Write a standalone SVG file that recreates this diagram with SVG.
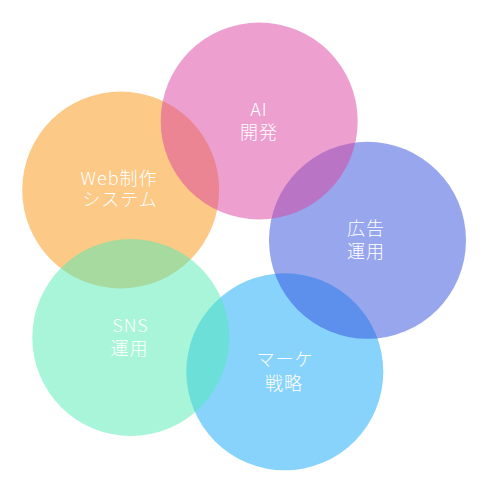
<svg xmlns="http://www.w3.org/2000/svg" width="489" height="493" viewBox="0 0 489 493">
<style>
.c{opacity:0.5}
.t{font-family:"Noto Sans CJK JP","Noto Sans",sans-serif;font-size:18px;font-weight:300;fill:#ffffff;text-anchor:middle;letter-spacing:1px}
</style>
<rect width="489" height="493" fill="#ffffff"/>
<g id="web">
<circle class="c" cx="120.7" cy="190" r="98.5" fill="#F9930F"/>
</g>
<g id="marke">
<circle class="c" cx="284.8" cy="371.8" r="98.5" fill="#11A7F9"/>
</g>
<g id="koukoku">
<circle class="c" cx="367.5" cy="240.3" r="98.5" fill="#314DDB"/>
</g>
<g id="ai">
<circle class="c" cx="259.2" cy="121" r="98.5" fill="#DB419F"/>
</g>
<g id="sns">
<circle class="c" cx="130.8" cy="337.5" r="98.5" fill="#51EBB5"/>
</g>
<g id="labels">
<text class="t" x="259" y="115.5">AI</text>
<text class="t" x="259" y="139">開発</text>
<text class="t" x="119" y="185">Web制作</text>
<text class="t" x="120" y="205.5">システム</text>
<text class="t" x="366" y="235">広告</text>
<text class="t" x="366" y="257.5">運用</text>
<text class="t" x="130.5" y="331.5">SNS</text>
<text class="t" x="129.5" y="355">運用</text>
<text class="t" x="285" y="366">マーケ</text>
<text class="t" x="284" y="389.5">戦略</text>
</g>
<g id="connectors"></g>
</svg>
